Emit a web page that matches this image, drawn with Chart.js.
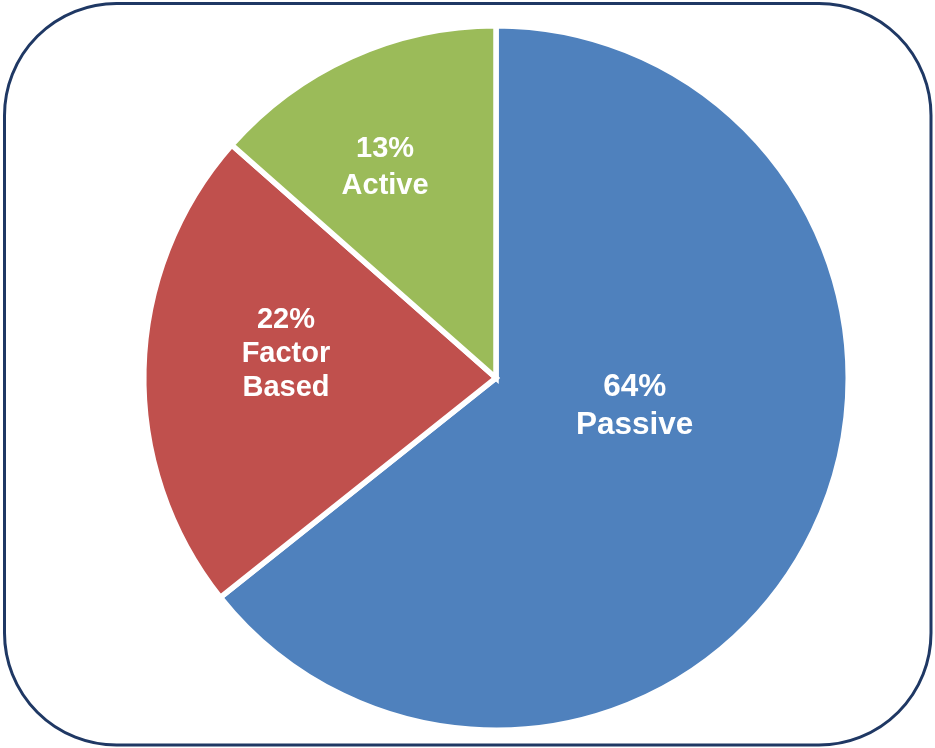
<!DOCTYPE html>
<html>
<head>
<meta charset="utf-8">
<script src="https://cdn.jsdelivr.net/npm/chart.js@4"></script>
<style>
  html, body { margin: 0; padding: 0; background: #fff; }
  #wrap { width: 935px; height: 748px; position: relative; }
</style>
</head>
<body>
<div id="wrap"><canvas id="pieChart"></canvas></div>
<script>
// data
const categories = ['Passive', 'Factor Based', 'Active'];
const shares = [64.3, 22.2, 13.5];
const labelLines = [['64%', 'Passive'], ['22%', 'Factor', 'Based'], ['13%', 'Active']];
const colors = ['#4F81BD', '#C0504D', '#9BBB59'];

// where each label sits: angle (deg clockwise from top) and fraction of radius
const labelSpots = [
  { angle: 101.7, r: 0.402, size: 31.5, lh: 38 },
  { angle: 276.4, r: 0.60, size: 29, lh: 34 },
  { angle: 332.2, r: 0.675, size: 29, lh: 37 }
];

// rounded frame round the whole thing
const framePlugin = {
  id: 'frame',
  beforeDraw(chart) {
    const ctx = chart.ctx;
    ctx.save();
    ctx.fillStyle = '#fff';
    ctx.fillRect(0, 0, chart.width, chart.height);
    ctx.beginPath();
    ctx.roundRect(4.5, 3.5, 926.5, 741.5, 112);
    ctx.lineWidth = 3;
    ctx.strokeStyle = '#1F3864';
    ctx.stroke();
    ctx.restore();
  }
};

// slice labels
const labelPlugin = {
  id: 'sliceLabels',
  afterDatasetsDraw(chart) {
    const ctx = chart.ctx;
    const arc = chart.getDatasetMeta(0).data[0];
    const cx = arc.x, cy = arc.y, R = arc.outerRadius;
    ctx.save();
    ctx.fillStyle = '#fff';
    ctx.textAlign = 'center';
    ctx.textBaseline = 'middle';
    labelLines.forEach((lines, i) => {
      const s = labelSpots[i];
      const a = s.angle * Math.PI / 180;
      const x = cx + Math.sin(a) * R * s.r;
      const y = cy - Math.cos(a) * R * s.r;
      ctx.font = 'bold ' + s.size + 'px "Liberation Sans", Arial, sans-serif';
      const top = y - (lines.length - 1) * s.lh / 2;
      lines.forEach((t, j) => ctx.fillText(t, x, top + j * s.lh));
    });
    ctx.restore();
  }
};

const ctx = document.getElementById('pieChart').getContext('2d');
new Chart(ctx, {
  type: 'pie',
  data: {
    labels: categories,
    datasets: [{
      data: shares,
      backgroundColor: colors,
      borderColor: '#ffffff',
      borderWidth: 5.5,
      borderJoinStyle: 'miter'
    }]
  },
  options: {
    responsive: true,
    maintainAspectRatio: false,
    animation: false,
    layout: { padding: { left: 141, right: 84, top: 23, bottom: 15 } },
    plugins: {
      legend: { display: false },
      tooltip: { enabled: false }
    }
  },
  plugins: [framePlugin, labelPlugin]
});
</script>
</body>
</html>
